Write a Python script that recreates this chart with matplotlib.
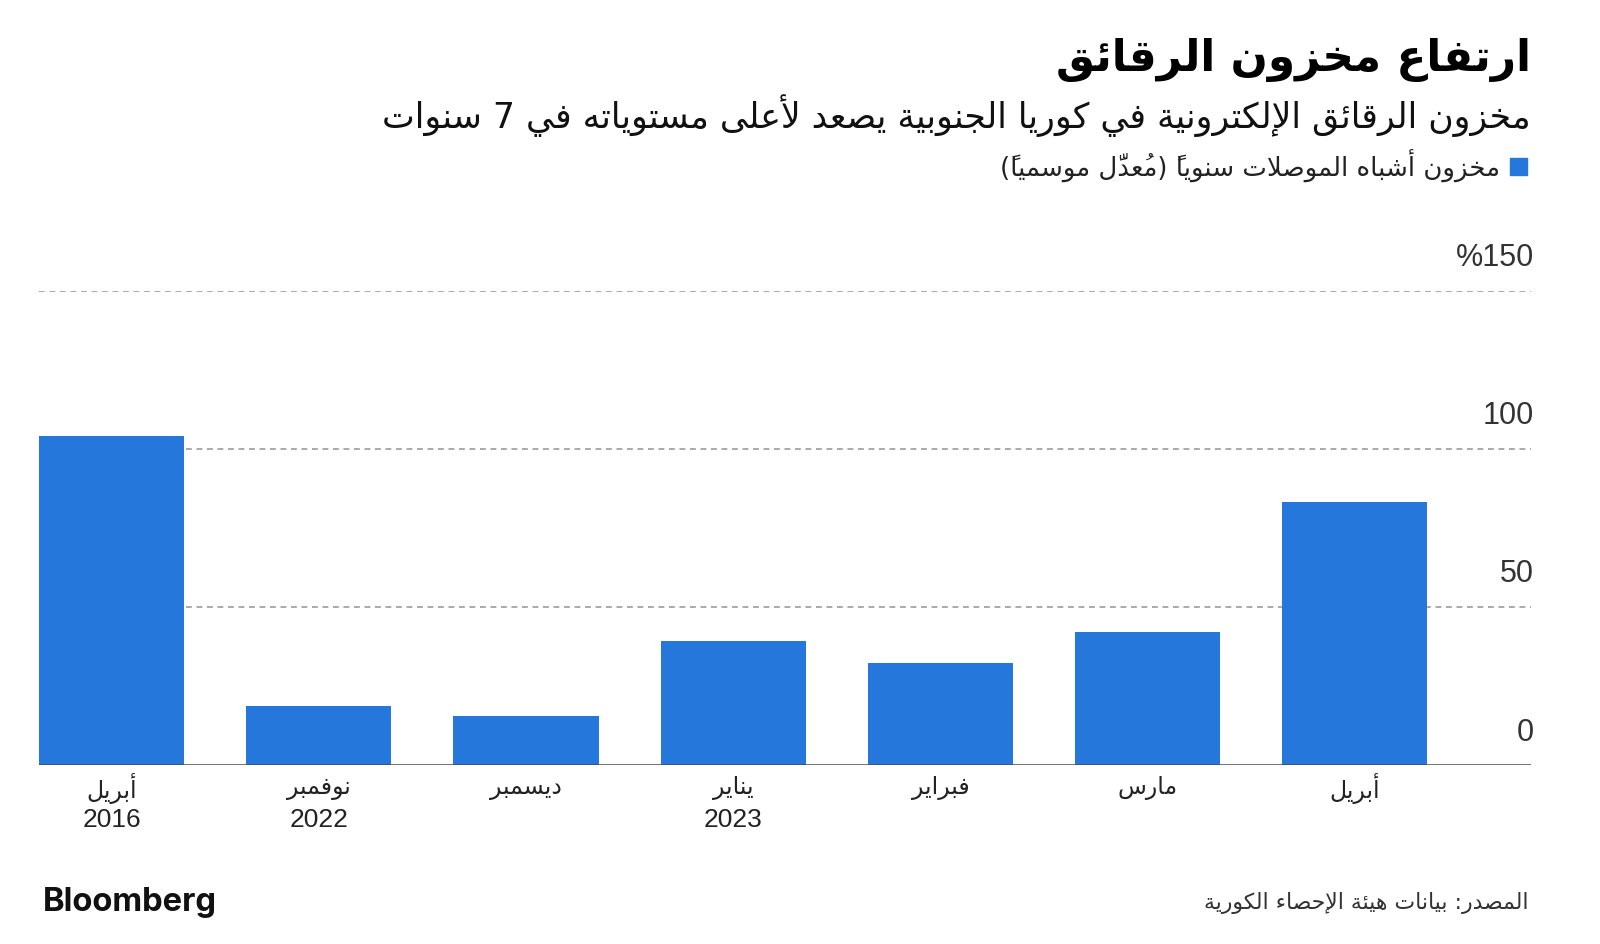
import matplotlib
matplotlib.use("Agg")
import matplotlib.pyplot as plt
from matplotlib.patches import Rectangle
import matplotlib.transforms as mtransforms

# ---------------- data ----------------
months = ["أبريل", "نوفمبر", "ديسمبر", "يناير", "فبراير", "مارس", "أبريل"]
years = ["2016", "2022", "", "2023", "", "", ""]
values = [104.2, 18.7, 15.6, 39.3, 32.4, 42.1, 83.2]
yticks = [0, 50, 100, 150]
ytick_labels = ["0", "50", "100", "%150"]

title = "ارتفاع مخزون الرقائق"
subtitle = "مخزون الرقائق الإلكترونية في كوريا الجنوبية يصعد لأعلى مستوياته في 7 سنوات"
legend_label = "مخزون أشباه الموصلات سنوياً (مُعدَّل موسمياً)"
source = "المصدر: بيانات هيئة الإحصاء الكورية"

BLUE = "#2577DB"

# ---------------- minimal Arabic shaping + RTL ordering ----------------
AR = {
    'ء': (0xFE80, 1), 'آ': (0xFE81, 2), 'أ': (0xFE83, 2), 'ؤ': (0xFE85, 2), 'إ': (0xFE87, 2),
    'ئ': (0xFE89, 4), 'ا': (0xFE8D, 2), 'ب': (0xFE8F, 4), 'ة': (0xFE93, 2), 'ت': (0xFE95, 4),
    'ث': (0xFE99, 4), 'ج': (0xFE9D, 4), 'ح': (0xFEA1, 4), 'خ': (0xFEA5, 4), 'د': (0xFEA9, 2),
    'ذ': (0xFEAB, 2), 'ر': (0xFEAD, 2), 'ز': (0xFEAF, 2), 'س': (0xFEB1, 4), 'ش': (0xFEB5, 4),
    'ص': (0xFEB9, 4), 'ض': (0xFEBD, 4), 'ط': (0xFEC1, 4), 'ظ': (0xFEC5, 4), 'ع': (0xFEC9, 4),
    'غ': (0xFECD, 4), 'ف': (0xFED1, 4), 'ق': (0xFED5, 4), 'ك': (0xFED9, 4), 'ل': (0xFEDD, 4),
    'م': (0xFEE1, 4), 'ن': (0xFEE5, 4), 'ه': (0xFEE9, 4), 'و': (0xFEED, 2), 'ى': (0xFEEF, 2),
    'ي': (0xFEF1, 4),
}
LAMALEF = {'آ': 0xFEF5, 'أ': 0xFEF7, 'إ': 0xFEF9, 'ا': 0xFEFB}
MARKS = set(chr(c) for c in range(0x064B, 0x0653)) | {'\u0670'}


def _nforms(b):
    if b.startswith('LA') and len(b) == 3:
        return 2
    return AR[b][1] if b in AR else 0


def ar(text):
    cl = []
    for ch in text:
        if ch in MARKS and cl:
            cl[-1][1] += ch
        else:
            cl.append([ch, ''])
    merged = []
    i = 0
    while i < len(cl):
        b, m = cl[i]
        if b == 'ل' and i + 1 < len(cl) and cl[i + 1][0] in LAMALEF:
            merged.append(['LA' + cl[i + 1][0], m + cl[i + 1][1]])
            i += 2
        else:
            merged.append([b, m])
            i += 1
    out = []
    for i, (b, m) in enumerate(merged):
        n = _nforms(b)
        if n == 0:
            out.append((b, m))
            continue
        prev = merged[i - 1][0] if i > 0 else None
        nxt = merged[i + 1][0] if i + 1 < len(merged) else None
        jp = prev is not None and _nforms(prev) == 4
        jn = n == 4 and nxt is not None and _nforms(nxt) >= 2
        if b.startswith('LA') and len(b) == 3:
            g = chr(LAMALEF[b[2]] + (1 if jp else 0))
        else:
            s = AR[b][0]
            if n == 1:
                g = chr(s)
            elif n == 2:
                g = chr(s + (1 if jp else 0))
            else:
                g = chr(s + (3 if (jp and jn) else 1 if jp else 2 if jn else 0))
        out.append((g, m))
    out = out[::-1]
    swap = {'(': ')', ')': '('}
    out = [(swap.get(g, g), m) for g, m in out]
    # restore LTR runs (digits / latin)
    res = []
    run = []
    for g, m in out:
        if g.isascii() and g.isalnum():
            run.append((g, m))
        else:
            if run:
                res.extend(run[::-1])
                run = []
            res.append((g, m))
    if run:
        res.extend(run[::-1])
    # marks are drawn to the right of the pen, so emit them before their base
    return ''.join(m + g for g, m in res)


# ---------------- figure ----------------
W, H = 1600, 944
fig = plt.figure(figsize=(W / 100, H / 100), dpi=100)
fig.patch.set_facecolor("white")

ax = fig.add_axes([39 / W, 1 - 765.3 / H, (1531 - 39) / W, (765.3 - 290.8) / H])
ax.set_facecolor("none")

x = list(range(len(values)))
ax.bar(x, values, width=0.70, color=BLUE, zorder=3)
ax.set_xlim(-0.35, 6.85)
ax.set_ylim(0, 150)

for sp in ax.spines.values():
    sp.set_visible(False)
ax.set_xticks([])
ax.set_yticks([])

for v in yticks:
    if v == 0:
        ax.axhline(v, color="#4a4a4a", lw=1.8, zorder=4)
    else:
        ax.axhline(v, color="#aaaaaa", lw=1.4, ls=(0, (3, 2.4)), zorder=1)

blend = mtransforms.blended_transform_factory(ax.transAxes, ax.transData)
for v, lab in zip(yticks, ytick_labels):
    ax.annotate(lab, xy=(1.002, v), xycoords=blend, xytext=(0, 23.5),
                textcoords="offset points", ha="right", va="center",
                fontsize=22, color="#333333", family="Liberation Sans")

for xi, mo, yr in zip(x, months, years):
    ax.annotate(ar(mo), xy=(xi, 0), xycoords=("data", "axes fraction"),
                xytext=(0, -16.5), textcoords="offset points", ha="center", va="center",
                fontsize=17, color="#222222", family="DejaVu Sans")
    if yr:
        ax.annotate(yr, xy=(xi, 0), xycoords=("data", "axes fraction"),
                    xytext=(0, -39.5), textcoords="offset points", ha="center", va="center",
                    fontsize=19, color="#222222", family="Liberation Sans")

# ---------------- header / footer ----------------
t_title = fig.text(1531 / W, 1 - 60 / H, ar(title), ha="right", va="center",
                   fontsize=30, fontweight="bold", color="#000000", family="DejaVu Sans")
t_sub = fig.text(1531 / W, 1 - 116 / H, ar(subtitle), ha="right", va="center",
                 fontsize=22, color="#111111", family="DejaVu Sans")
t_leg = fig.text(1500 / W, 1 - 166 / H, ar(legend_label), ha="right", va="center",
                 fontsize=15, color="#222222", family="DejaVu Sans")
fig.patches.append(Rectangle((1510 / W, 1 - 175 / H), 17 / W, 17 / H,
                             transform=fig.transFigure, color=BLUE))
t_src = fig.text(1528 / W, 1 - 903 / H, ar(source), ha="right", va="center",
                 fontsize=14, color="#333333", family="DejaVu Sans")
t_bb = fig.text(43 / W, 1 - 903 / H, "Bloomberg", ha="left", va="center",
                fontsize=21, fontweight="bold", color="#111111", family="Inter")

# fit text widths to reference
renderer = fig.canvas.get_renderer()
for t, target in [(t_title, 475), (t_sub, 1148), (t_leg, 500), (t_src, 324), (t_bb, 174)]:
    for _ in range(3):
        w = t.get_window_extent(renderer).width
        if w > 0:
            t.set_fontsize(t.get_fontsize() * target / w)

fig.savefig("out.png", dpi=100, facecolor="white")
